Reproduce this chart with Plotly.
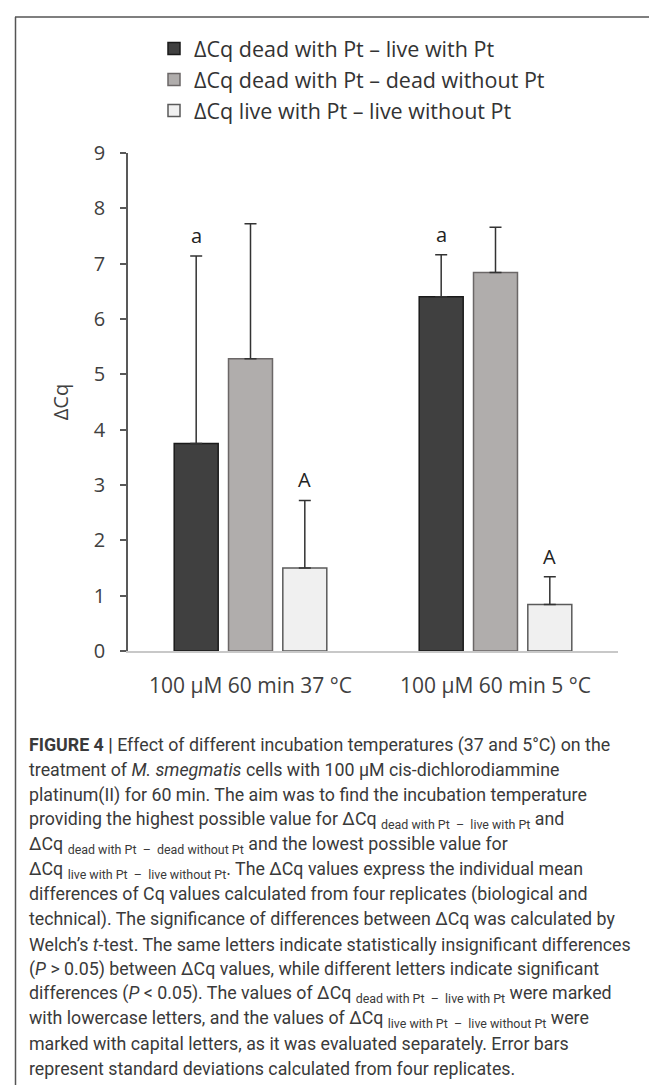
import plotly.graph_objects as go

# ---------------- data ----------------
categories = ["100 μM 60 min 37 °C", "100 μM 60 min 5 °C"]
series_names = [
    "ΔCq dead with Pt – live with Pt",
    "ΔCq dead with Pt – dead without Pt",
    "ΔCq live with Pt – live without Pt",
]
dcq_dead_pt_live_pt = [3.75, 6.40]
dcq_dead_pt_dead_nopt = [5.28, 6.84]
dcq_live_pt_live_nopt = [1.50, 0.84]
sd_dead_pt_live_pt = [3.39, 0.76]
sd_dead_pt_dead_nopt = [2.44, 0.82]
sd_live_pt_live_nopt = [1.22, 0.50]
letters_lower = ["a", "a"]      # over ΔCq dead with Pt – live with Pt
letters_upper = ["A", "A"]      # over ΔCq live with Pt – live without Pt
y_ticks = [0, 1, 2, 3, 4, 5, 6, 7, 8, 9]

caption_lines = [
    "<b>FIGURE 4 |</b> Effect of different incubation temperatures (37 and 5°C) on the",
    "treatment of <i>M. smegmatis</i> cells with 100 μM cis-dichlorodiammine",
    "platinum(II) for 60 min. The aim was to find the incubation temperature",
    "providing the highest possible value for ΔCq <sub>dead with Pt  –  live with Pt</sub> and",
    "ΔCq <sub>dead with Pt  –  dead without Pt</sub> and the lowest possible value for",
    "ΔCq <sub>live with Pt  –  live without Pt</sub>. The ΔCq values express the individual mean",
    "differences of Cq values calculated from four replicates (biological and",
    "technical). The significance of differences between ΔCq was calculated by",
    "Welch’s <i>t</i>-test. The same letters indicate statistically insignificant differences",
    "(<i>P</i> &gt; 0.05) between ΔCq values, while different letters indicate significant",
    "differences (<i>P</i> &lt; 0.05). The values of ΔCq <sub>dead with Pt  –  live with Pt</sub> were marked",
    "with lowercase letters, and the values of ΔCq <sub>live with Pt  –  live without Pt</sub> were",
    "marked with capital letters, as it was evaluated separately. Error bars",
    "represent standard deviations calculated from four replicates.",
]

# ---------------- styling / layout ----------------
W, H = 657, 1085
ML, MR, MT, MB = 120, 47, 145, 442
PW, PH = W - ML - MR, H - MT - MB
BARGAP, BARGROUPGAP = 0.335, 0.19
CHART_FONT = "Open Sans, Noto Sans, sans-serif"
TEXT_COLOR = "#404040"


def px_x(px):
    return (px - ML) / PW


def px_y(py):
    return (H - MB - py) / PH


fills = ["#404040", "#b0adac", "#f0f0f0"]
edges = ["#1a1a1a", "#6b6767", "#5a5a5a"]
values = [dcq_dead_pt_live_pt, dcq_dead_pt_dead_nopt, dcq_live_pt_live_nopt]
errors = [sd_dead_pt_live_pt, sd_dead_pt_dead_nopt, sd_live_pt_live_nopt]

fig = go.Figure()
for j in range(3):
    fig.add_trace(go.Bar(
        name=series_names[j],
        x=categories,
        y=values[j],
        legendgroup=f"g{j}",
        marker=dict(color=fills[j], line=dict(color=edges[j], width=1.5)),
        error_y=dict(type="data", symmetric=False, array=errors[j],
                     arrayminus=[0] * len(errors[j]),
                     color="#333333", thickness=1.5, width=6),
    ))

slot = (1 - BARGAP) / 3
annotations = []
for i in range(len(categories)):
    for j, letters in ((0, letters_lower), (2, letters_upper)):
        annotations.append(dict(
            x=i + (j - 1) * slot, y=values[j][i] + errors[j][i],
            xref="x", yref="y", text=letters[i], showarrow=False,
            yanchor="bottom", yshift=5,
            font=dict(family=CHART_FONT, size=20, color="#222222"),
        ))

line0 = 737
spacing = 24.9
for k, txt in enumerate(caption_lines):
    annotations.append(dict(
        x=px_x(19), y=px_y(line0 + k * spacing), xref="paper", yref="paper",
        xanchor="left", yanchor="middle", text=txt, showarrow=False, align="left",
        font=dict(family="Roboto, Liberation Sans, sans-serif", size=17.8, color="#3a3a3a"),
    ))

shapes = [
    dict(type="line", xref="paper", yref="paper", x0=px_x(7), x1=px_x(651),
         y0=px_y(9), y1=px_y(9), line=dict(color="#555555", width=1.5)),
    dict(type="line", xref="paper", yref="paper", x0=px_x(7.5), x1=px_x(7.5),
         y0=px_y(9), y1=px_y(1080), line=dict(color="#555555", width=1.5)),
]

fig.update_layout(
    width=W, height=H,
    margin=dict(l=ML, r=MR, t=MT, b=MB, pad=0),
    paper_bgcolor="white", plot_bgcolor="white",
    barmode="group", bargap=BARGAP, bargroupgap=BARGROUPGAP,
    font=dict(family=CHART_FONT, color=TEXT_COLOR, size=20),
    showlegend=True,
    legend=dict(x=px_x(146), y=px_y(20), xanchor="left", yanchor="top",
                orientation="v", tracegroupgap=1, bgcolor="rgba(0,0,0,0)",
                font=dict(family=CHART_FONT, size=21.5, color="#333333"),
                traceorder="normal"),
    xaxis=dict(showline=True, linecolor="#c8c8c8", linewidth=2, ticks="",
               showgrid=False, zeroline=False, ticklabelstandoff=15,
               tickfont=dict(size=21, color=TEXT_COLOR)),
    yaxis=dict(range=[0, 9], tickvals=y_ticks, showline=True, linecolor="#595959",
               linewidth=1.5, ticks="outside", ticklen=6, tickwidth=1.5,
               tickcolor="#595959", showgrid=False, zeroline=False,
               ticklabelstandoff=11,
               tickfont=dict(size=20, color=TEXT_COLOR),
               title=dict(text="ΔCq", standoff=20, font=dict(size=20, color=TEXT_COLOR))),
    annotations=annotations,
    shapes=shapes,
)

fig.write_html("out.html")
